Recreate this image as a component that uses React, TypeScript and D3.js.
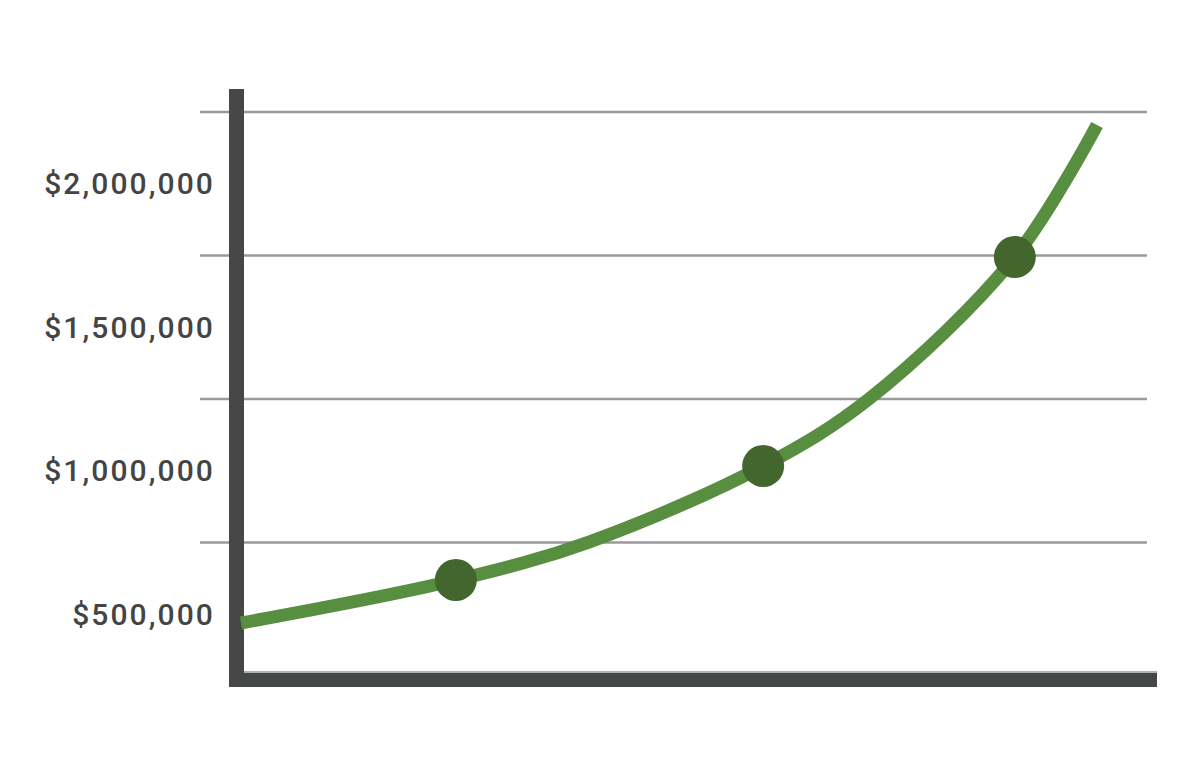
import React from "react";
import * as d3 from "d3";

// curve samples (year, portfolio value)
const years = [0, 5.02, 8.13, 12.2, 14.67, 18.08, 20];
const values = [469500, 619300, 751700, 1016600, 1250000, 1744800, 2204700];

// highlighted milestones on the curve
const milestoneYears = [5.02, 12.2, 18.08];
const milestoneValues = [619300, 1016600, 1744800];

// y labels and grid lines
const tickValues = [500000, 1000000, 1500000, 2000000];
const gridValues = [750000, 1250000, 1750000, 2250000];

const W = 1200;
const H = 780;

export default function App() {
  // scales
  const x = d3.scaleLinear().domain([0, 20]).range([241, 1097]);
  const y = d3.scaleLinear().domain([250000, 2250000]).range([686, 112]);

  const fmt = d3.format("$,");

  const line = d3
    .line<number>()
    .x((d, i) => x(years[i]))
    .y((d) => y(d))
    .curve(d3.curveCatmullRom.alpha(0.5));

  const axisColor = "#464847";

  return (
    <svg
      width={W}
      height={H}
      style={{ position: "absolute", left: 0, top: 0, background: "#fff" }}
    >
      {/* grid lines */}
      {gridValues.map((v) => (
        <line
          key={v}
          x1={200}
          x2={1147}
          y1={y(v)}
          y2={y(v)}
          stroke="#9a9a9a"
          strokeWidth={2.5}
        />
      ))}

      {/* y labels */}
      {tickValues.map((v) => (
        <text
          key={v}
          x={215}
          y={y(v)}
          textAnchor="end"
          dominantBaseline="central"
          fontFamily="Roboto, sans-serif"
          fontSize={30}
          fontWeight={500}
          letterSpacing={2.1}
          fill="#444444"
        >
          {fmt(v)}
        </text>
      ))}

      {/* axis bars */}
      <line x1={244} x2={1157} y1={672} y2={672} stroke="#b0b0b0" strokeWidth={2} />
      <rect x={229} y={89} width={15} height={598} fill={axisColor} />
      <rect x={229} y={673} width={928} height={14} fill={axisColor} />

      {/* growth curve */}
      <path
        d={line(values) || ""}
        fill="none"
        stroke="#588e3f"
        strokeWidth={13}
      />

      {/* milestone dots */}
      {milestoneYears.map((yr, i) => (
        <circle
          key={yr}
          cx={x(yr)}
          cy={y(milestoneValues[i])}
          r={21}
          fill="#43662f"
        />
      ))}
    </svg>
  );
}
